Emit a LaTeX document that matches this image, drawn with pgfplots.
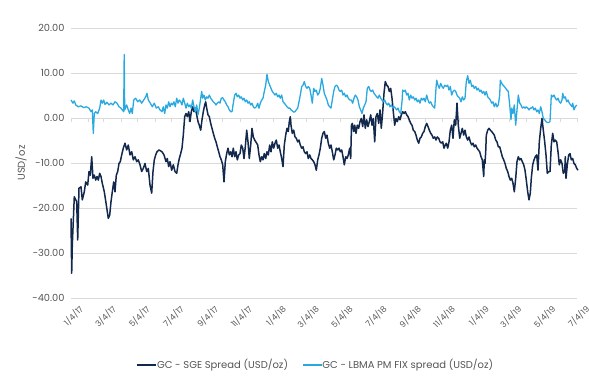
\documentclass[border=0pt]{standalone}
\usepackage{pgfplots}
\pgfplotsset{compat=1.18}
\usepackage{fontspec}
\setmainfont{Poppins}
\definecolor{navy}{HTML}{12284C}
\definecolor{sky}{HTML}{2AA8E0}
\definecolor{gridc}{HTML}{DADADA}
\definecolor{txt}{HTML}{555555}
\begin{document}
\begin{tikzpicture}
\path[use as bounding box] (0pt,0pt) rectangle (589pt,384pt);
\begin{axis}[
  at={(71pt,86pt)}, anchor=south west,
  scale only axis, width=506pt, height=270pt,
  xmin=0, xmax=506, ymin=-40, ymax=20,
  clip=false,
  axis line style={draw=none},
  major tick length=0pt,
  ymajorgrids, grid style={gridc, line width=0.8pt},
  ytick={-40,-30,-20,-10,0,10,20},
  yticklabel={\pgfmathprintnumber[fixed,fixed zerofill,precision=2]{\tick}},
  /pgf/number format/assume math mode=true,
  yticklabel style={font=\fontsize{9.8}{11}\selectfont, text=txt, xshift=-3pt},
  xtick={0,32.8,66.7,100.5,135.0,168.9,202.7,235.5,269.4,303.3,337.7,371.6,405.5,438.2,472.1,506},
  xticklabels={1/4/17,3/4/17,5/4/17,7/4/17,9/4/17,11/4/17,1/4/18,3/4/18,5/4/18,7/4/18,9/4/18,11/4/18,1/4/19,3/4/19,5/4/19,7/4/19},
  xticklabel style={font=\fontsize{8.3}{9}\selectfont, text=txt, rotate=45, anchor=north east, inner sep=0.5pt, xshift=1.5pt, yshift=-9pt},
  ylabel={USD/oz},
  ylabel style={font=\fontsize{10}{11}\selectfont, text=txt, at={(axis description cs:-0.0988,0.5)}, anchor=center},
  legend columns=2,
  legend style={at={(axis description cs:0.484,-0.248)}, anchor=center, draw=none, fill=none,
    font=\fontsize{10}{11}\selectfont, text=txt, /tikz/every even column/.append style={column sep=12pt},
    /tikz/every odd column/.append style={column sep=-2pt}},
  legend image code/.code={\draw[#1] (0pt,0pt) -- (19pt,0pt);},
]
\pgfplotsinvokeforeach{0,17.2,32.8,50.0,66.7,83.9,100.5,117.8,135.0,151.6,168.9,185.5,202.7,220.0,235.5,252.7,269.4,286.6,303.3,320.5,337.7,354.4,371.6,388.3,405.5,422.7,438.2,455.5,472.1,489.3,506}{
  \draw[gridc, line width=0.8pt] (axis cs:#1,0) -- ++(0pt,-4pt);
}
\addplot[navy, line width=1.5pt, line join=round] coordinates {
(0,-22.3)(0.7,-34.5)(1.3,-28.2)(3.3,-17.5)(5.7,-18.6)(6.7,-27.1)(8.0,-15.6)(10.0,-15.3)(11.3,-18.2)(13.3,-16.4)
(14.7,-14.2)(16.7,-14.9)(18.0,-11.9)(19.3,-12.7)(20.7,-8.6)(22.0,-13.4)(23.3,-12.7)(24.7,-13.8)(26.0,-13.0)(27.3,-13.8)
(28.7,-12.3)(30.0,-13.0)(31.3,-14.5)(33.3,-16.4)(35.3,-19.3)(37.3,-22.3)(38.7,-21.6)(40.0,-18.6)(41.3,-16.4)(42.7,-14.2)
(44.0,-16.4)(45.3,-12.7)(46.7,-11.9)(48.0,-10.1)(49.3,-9.7)(50.7,-8.2)(52.3,-6.7)(54.0,-5.6)(55.7,-7.1)(57.3,-6.0)
(59.0,-8.2)(60.7,-7.5)(62.3,-9.3)(64.0,-8.6)(65.7,-9.7)(67.3,-9.3)(69.0,-10.4)(70.7,-11.9)(72.3,-11.2)(74.0,-10.1)
(75.7,-11.9)(77.3,-11.2)(79.0,-14.9)(80.7,-16.7)(82.0,-11.9)(83.3,-9.3)(84.7,-8.2)(86.0,-7.5)(88.0,-7.1)
(91.0,-7.5)(93.0,-8.2)(95.0,-9.7)(96.3,-9.0)(97.7,-10.8)(99.0,-9.7)(100.7,-11.6)(102.3,-10.4)(104.0,-11.9)(105.7,-12.3)
(107.0,-10.4)(108.3,-9.0)(109.7,-7.9)(111.0,-6.7)(112.3,-3.8)(113.7,0.3)(115.0,1.0)(116.3,0.3)(117.7,1.4)(119.0,-0.8)
(120.3,1.4)(121.7,2.5)(123.0,1.4)(124.3,2.2)(125.7,0.7)(127.0,-0.8)(128.3,-1.6)(129.7,-2.7)(131.0,-0.4)(132.3,1.4)
(133.7,2.9)(134.7,3.6)(135.7,2.2)(137.0,0.7)(138.3,0.3)(139.7,-1.2)(141.0,-2.3)(142.3,-3.4)(143.7,-4.5)(145.0,-5.3)
(146.3,-6.4)(147.7,-7.5)(149.0,-8.6)(150.3,-9.3)(151.7,-10.4)(153.0,-14.2)(154.3,-9.7)(155.7,-7.9)(157.0,-6.7)(158.3,-8.2)
(159.7,-7.5)(161.0,-8.6)(162.3,-6.7)(163.7,-8.6)(165.0,-7.5)(166.3,-9.3)(167.7,-8.2)(169.0,-7.9)(170.3,-6.0)(171.7,-6.7)
(173.0,-9.0)(174.3,-6.4)(175.7,-2.7)(177.0,-5.3)(178.3,-9.0)(179.7,-6.0)(181.0,-2.3)(182.3,-4.2)(183.7,-4.9)
(186.7,-6.0)(188.0,-8.2)(189.3,-9.7)(190.7,-8.6)(192.0,-9.3)(193.3,-7.9)(194.7,-9.0)(196.0,-7.5)(197.3,-8.2)(198.7,-6.0)
(200.0,-7.5)(201.3,-5.3)(202.7,-6.7)(204.0,-5.6)(205.3,-4.9)(206.7,-6.7)(208.0,-6.0)(209.3,-7.5)(210.7,-9.0)(212.0,-10.8)
(213.3,-6.0)(214.7,-3.8)(216.0,-2.3)(217.3,-3.0)(218.3,-0.8)(219.3,0.3)(220.0,-1.6)(221.3,-3.4)(222.7,-2.7)(224.0,-4.2)
(225.3,-4.5)(226.7,-5.3)(228.0,-4.9)(229.3,-6.0)(230.7,-6.7)(232.0,-6.4)(233.3,-7.5)(234.7,-7.9)(236.0,-7.5)(237.3,-9.0)
(238.7,-8.2)(240.0,-9.0)(241.3,-9.3)(242.7,-9.7)(244.0,-10.4)(245.3,-11.6)(246.7,-9.3)(248.0,-8.2)(249.3,-6.7)(250.7,-4.5)
(252.0,-3.4)(253.3,-3.0)(254.7,-4.5)(256.0,-3.8)(257.3,-5.6)(258.7,-6.7)(260.0,-6.0)(261.3,-7.5)(262.7,-9.3)(264.0,-8.2)
(265.3,-6.7)(266.7,-7.1)(268.0,-6.7)(269.3,-7.5)(270.7,-7.1)(272.0,-8.6)(273.3,-10.4)(274.7,-8.6)(276.0,-9.0)(277.3,-8.2)
(278.7,-6.7)(279.7,-9.0)(280.5,-1.6)(281.3,-1.2)(282.7,-3.0)(283.7,-1.6)(285.0,-3.4)(286.3,-1.6)(287.7,-2.3)(289.0,-0.8)
(290.3,-0.1)(291.7,-1.9)(293.0,0.7)(294.3,-2.3)(295.7,-0.4)(297.0,-1.9)(298.3,-0.8)(299.7,0.7)(301.0,-1.6)(302.3,-0.1)
(303.7,-5.3)(305.0,0.3)(306.3,1.0)(307.7,-1.2)(309.0,1.8)(310.3,-2.3)(311.7,1.4)(313.0,5.5)(314.3,8.1)(315.7,7.3)
(317.0,7.0)(318.3,5.9)(319.7,6.6)(321.0,4.4)(322.3,1.4)(323.7,-1.6)(325.0,-0.1)(326.3,-0.8)(327.7,0.3)(329.0,-0.4)
(330.3,0.7)(331.7,1.4)(333.0,1.0)(334.3,1.4)(335.7,0.7)(337.0,0.3)(338.3,-0.4)(339.7,-1.2)(341.0,-1.6)(342.3,-2.7)
(343.7,-3.0)(345.0,-3.8)(346.3,-4.9)(347.7,-5.6)(349.0,-4.5)(350.3,-4.2)(351.7,-3.4)(353.0,-3.0)(354.3,-1.9)(355.7,-1.2)
(357.0,-1.9)(358.3,-2.7)(359.7,-3.4)(361.0,-3.8)(362.3,-4.5)(363.7,-4.2)(365.0,-4.9)(366.3,-4.2)(367.7,-4.5)(369.0,-5.3)
(370.3,-5.6)(371.7,-5.3)(373.0,-6.7)(374.3,-6.0)(375.3,-5.6)(376.7,-6.7)(378.0,-5.3)(379.3,-2.7)(380.7,-1.6)(382.0,-4.5)
(383.3,-0.4)(384.7,-1.6)(386.0,3.3)(387.3,-1.6)(388.7,-4.5)(390.0,-3.4)(391.3,-2.3)(392.7,-3.8)(394.0,-2.7)(395.3,-4.2)
(396.7,-4.9)(398.0,-4.2)(399.3,-5.3)(400.7,-6.0)(402.0,-5.6)(403.3,-6.4)(404.7,-6.0)(406.0,-6.7)(407.3,-7.1)(408.7,-7.5)
(410.0,-8.6)(411.3,-9.3)(412.7,-13.0)(413.3,-9.3)(414.0,-10.1)(414.7,-7.5)(415.3,-3.8)(416.7,-2.7)(418.0,-2.3)(419.3,-2.7)
(420.7,-3.0)(422.0,-3.4)(423.3,-3.8)(424.7,-4.9)(426.0,-5.3)(427.3,-6.4)(428.7,-6.4)(430.0,-7.5)(431.3,-8.6)(432.7,-9.3)
(434.0,-10.1)(435.3,-11.2)(436.7,-11.9)(438.0,-13.0)(439.3,-13.8)(440.7,-13.4)(442.0,-14.5)(443.3,-16.4)(444.7,-13.4)(446.0,-9.7)
(447.3,-8.6)(448.7,-9.3)(450.0,-9.0)(451.3,-9.7)(452.7,-10.4)(454.0,-11.6)(455.3,-13.8)(456.7,-16.4)(458.0,-18.2)(459.3,-16.7)
(460.3,-13.4)(461.7,-10.4)(463.0,-9.3)(464.3,-8.6)(465.7,-8.2)(467.0,-11.6)(468.3,-5.3)(469.7,-2.3)(471.0,-0.1)(472.3,-2.7)
(473.7,-5.3)(475.0,-8.2)(476.3,-12.3)(477.7,-11.9)(479.0,-11.9)(480.3,-6.0)(481.7,-3.4)(483.0,-5.3)(484.3,-4.9)(485.7,-5.3)
(487.0,-7.5)(488.3,-10.4)(489.7,-9.3)(491.0,-10.1)(492.3,-12.3)(493.7,-11.9)(494.3,-8.6)(495.0,-13.4)(496.3,-10.4)(497.7,-8.2)
(499.0,-7.9)(500.3,-9.3)(501.7,-9.0)(503.0,-10.1)(504.3,-10.4)(505.7,-11.2)(507.0,-11.6)
};
\addlegendentry{GC - SGE Spread (USD/oz)}
\addplot[sky, line width=1.3pt, line join=round] coordinates {
(0,4.0)(2.0,3.3)(3.3,3.8)(4.7,2.9)(7.3,2.5)(10.0,2.7)(12.7,2.3)(15.3,2.5)(18.0,2.2)(20.0,1.4)
(21.3,1.8)(22.3,-3.4)(23.3,1.0)(24.7,1.4)(26.7,1.0)(28.7,2.2)(30.0,4.0)(31.3,3.3)(32.7,4.0)(34.0,3.0)
(36.0,3.5)(38.0,2.9)(40.0,3.3)(42.0,2.9)(44.0,3.6)(46.0,3.3)(48.0,2.5)(50.0,2.2)(51.3,1.8)(52.7,1.4)
(53.2,14.1)(53.7,1.8)(55.7,2.9)(57.3,1.8)(58.7,1.0)(60.0,2.2)(61.3,1.0)(62.7,4.0)(64.7,4.4)(66.7,3.6)
(68.7,4.0)(70.7,3.3)(72.7,4.0)(74.7,4.7)(76.0,5.5)(77.3,4.0)(79.3,3.3)(81.3,2.5)(83.3,3.3)(85.3,2.2)(87.3,2.5)
(89.0,1.8)(91.0,1.4)(92.3,2.5)(93.7,1.0)(95.0,2.9)(96.3,2.2)(97.7,3.6)(99.0,2.5)(100.3,3.3)(101.7,2.9)
(103.0,3.6)(104.3,2.5)(105.7,4.4)(107.0,3.3)(108.3,4.0)(109.7,3.6)(111.0,2.9)(112.3,4.4)(113.7,3.3)(115.0,2.2)
(116.3,3.3)(117.7,2.5)(119.0,2.9)(120.3,2.2)(121.7,4.0)(123.0,2.5)(124.3,1.4)(125.7,2.9)(127.0,0.7)(128.3,2.2)
(129.7,4.4)(130.7,5.9)(131.7,4.4)(133.0,5.1)(134.3,4.0)(135.7,4.7)(137.0,4.4)(138.3,5.1)(139.7,4.4)(141.0,4.0)
(142.3,3.6)(143.7,3.3)(145.0,2.9)(146.3,3.3)(147.7,3.6)(149.0,3.3)(150.3,4.4)(151.7,4.5)(153.0,4.0)(154.3,3.6)
(155.7,2.9)(157.0,2.5)(158.3,1.8)(159.7,1.4)(161.0,1.4)(162.3,3.3)(163.7,5.1)(165.0,5.5)(166.3,4.7)(167.7,5.1)
(169.0,4.4)(170.3,4.7)(171.7,4.0)(173.0,4.4)(174.3,3.6)(175.7,4.0)(177.0,3.3)(178.3,3.6)(179.7,2.9)(181.0,3.3)
(182.3,2.5)(183.7,2.2)(185.3,2.5)(186.7,3.3)(188.0,2.2)(189.3,3.3)(190.7,4.0)(192.0,4.4)(193.3,5.9)(194.7,7.3)
(196.0,9.7)(197.3,8.1)(198.7,7.3)(200.0,6.6)(201.3,5.9)(202.7,5.5)(204.0,5.1)(205.3,5.5)(206.7,4.7)(208.0,5.1)
(209.3,4.4)(210.7,5.1)(212.0,3.6)(213.3,3.3)(214.7,2.9)(216.0,2.5)(217.3,2.2)(218.7,2.2)(220.0,1.8)(221.3,1.6)
(222.7,1.3)(224.0,1.4)(225.3,1.8)(226.7,2.2)(228.0,3.6)(229.3,5.1)(230.7,7.0)(232.0,7.3)(233.3,8.1)(234.7,7.0)
(236.0,6.6)(237.3,7.0)(238.7,6.6)(240.0,5.1)(241.3,3.3)(242.7,6.6)(244.0,5.9)(245.3,6.2)(246.7,5.1)(248.0,5.5)
(249.3,6.6)(250.7,8.8)(252.0,7.3)(253.3,5.5)(254.7,4.7)(256.0,4.0)(257.3,2.9)(258.7,2.5)(260.0,2.2)(261.3,4.0)
(262.7,5.9)(264.0,7.0)(265.3,7.3)(266.7,7.0)(268.0,6.2)(269.3,5.9)(270.7,6.2)(272.0,5.1)(273.3,5.5)(274.7,4.7)
(276.0,5.1)(277.3,4.4)(278.7,4.0)(280.3,4.0)(281.7,3.3)(283.0,4.4)(284.3,5.1)(285.7,4.7)(287.0,4.0)(288.3,2.5)
(289.7,1.8)(291.0,1.0)(292.3,2.2)(293.7,2.9)(295.0,3.6)(296.3,6.6)(297.7,7.0)(299.0,6.2)(300.3,5.9)(301.7,6.2)
(303.0,5.5)(304.3,5.1)(305.7,4.7)(307.0,4.4)(308.3,5.1)(309.7,4.4)(311.0,4.0)(312.3,3.6)(313.7,4.0)(315.0,3.3)
(316.3,2.9)(317.7,3.3)(319.0,2.5)(320.3,2.9)(321.7,2.2)(323.0,2.5)(324.3,2.2)(325.7,1.8)(327.0,2.2)(328.3,1.4)
(329.7,1.0)(331.0,3.6)(331.7,6.2)(333.0,5.9)(334.3,6.2)(335.7,5.1)(337.0,5.5)(338.3,4.0)(339.7,5.1)(341.0,4.4)
(342.3,4.7)(343.7,4.0)(345.0,4.4)(346.3,3.6)(347.7,4.0)(349.0,3.3)(350.3,4.4)(351.7,4.0)(353.0,4.4)(354.3,3.6)
(355.7,5.1)(357.0,4.0)(358.3,3.3)(359.7,3.6)(361.0,2.9)(362.3,2.5)(363.7,2.2)(365.0,6.6)(365.7,8.4)(367.0,7.3)
(368.3,6.6)(369.7,7.7)(371.0,7.0)(372.3,6.6)(373.7,7.3)(375.3,7.0)(376.7,7.3)(378.0,6.2)(379.3,7.0)(380.7,5.1)
(382.0,5.9)(383.3,6.2)(384.7,5.9)(386.0,5.1)(387.3,4.7)(388.7,4.4)(390.0,3.6)(391.3,4.7)(392.7,4.0)(394.0,4.4)
(395.3,8.1)(396.7,9.4)(398.0,7.7)(399.3,8.4)(400.7,7.0)(402.0,7.3)(403.3,6.6)(404.7,7.0)(406.0,6.2)(407.3,6.6)
(408.7,5.9)(410.0,6.2)(411.3,5.5)(412.7,5.9)(414.0,5.1)(415.3,5.9)(416.7,4.7)(418.0,4.4)(419.3,4.0)(420.7,3.3)
(422.0,3.6)(423.3,2.5)(424.7,3.3)(426.0,2.5)(427.3,2.9)(428.7,5.1)(429.3,8.4)(430.7,7.7)(432.0,7.3)(433.3,7.0)
(434.7,6.6)(436.0,6.2)(437.3,5.9)(438.7,2.9)(440.0,-0.4)(440.7,2.2)(442.0,1.0)(443.3,2.9)(444.7,-1.6)(446.0,1.8)
(447.3,5.1)(448.7,3.3)(450.0,2.9)(451.3,2.2)(452.7,2.5)(454.0,2.2)(455.3,2.5)(456.7,2.2)(458.0,1.8)(459.3,2.2)
(460.3,2.2)(461.7,2.5)(463.0,1.8)(464.3,2.2)(465.7,1.4)(467.0,1.8)(468.3,1.0)(469.7,2.5)(471.0,1.4)(472.3,-0.1)
(473.7,-0.4)(475.0,-0.8)(476.3,-1.0)(477.7,-1.0)(479.0,-0.8)(479.7,2.2)(480.3,5.1)(481.7,4.7)(483.0,5.1)(484.3,4.4)
(485.7,4.0)(487.0,4.4)(488.3,3.6)(489.7,3.3)(491.0,4.0)(491.7,5.5)(493.0,4.4)(494.3,4.7)(495.7,3.6)(497.0,4.0)
(498.3,3.3)(499.7,2.9)(501.0,2.5)(501.7,3.3)(503.0,1.8)(504.3,2.5)(505.7,2.9)
};
\addlegendentry{GC - LBMA PM FIX spread (USD/oz)}
\end{axis}
\end{tikzpicture}
\end{document}
